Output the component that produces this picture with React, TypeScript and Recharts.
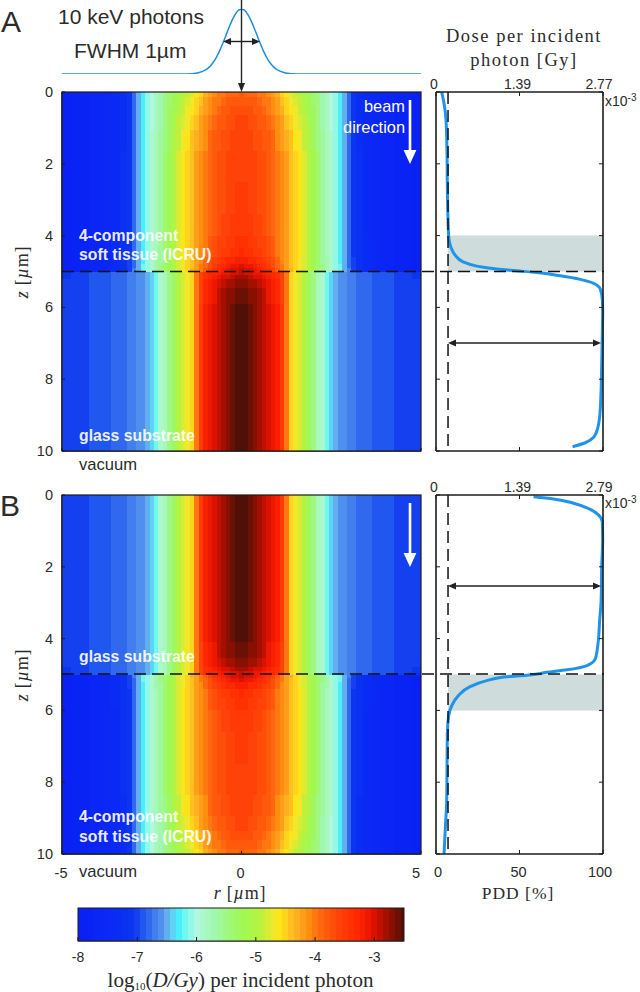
import React from 'react';
import { ScatterChart, Scatter, LineChart, Line, XAxis, YAxis, ReferenceLine, ReferenceArea } from 'recharts';

// log10 dose colour table, one entry per 0.1 from -8.0 to -2.5
const colorTable = [
  '#0a20f6', '#0a21f6', '#0a23f5', '#0a25f5', '#0a27f4', '#0a29f4', '#0a2bf3', '#0a2df3', '#0a30f2', '#0c35f0',
  '#1440ef', '#2057ee', '#3068ee', '#427eee', '#4f90ee', '#62aeef', '#5cd4f4', '#48f0fc', '#70f8f0', '#92f8e8',
  '#b0f8e0', '#acf8cc', '#a6f8bc', '#a0f8b0', '#a0f89c', '#a0f884', '#a0f870', '#a0f860', '#a0f850', '#a8f84c',
  '#b2f444', '#c0f03c', '#d8ec34', '#f0e828', '#ffe418', '#ffd41e', '#ffc020', '#ffb020', '#ff9e18', '#ff8e10',
  '#ff7810', '#ff6610', '#ff5a0c', '#ff4e0a', '#ff4208', '#ff3a04', '#ff3002', '#ff2800', '#f82000', '#ee1800',
  '#dc1200', '#c01000', '#a41000', '#881000', '#6a1004', '#501008',
];
const colorLevels = [
  -8, -7.9, -7.8, -7.7, -7.6, -7.5, -7.4, -7.3, -7.2, -7.1, -7, -6.9, -6.8, -6.7, -6.6, -6.5, -6.4, -6.3, -6.2, -6.1,
  -6, -5.9, -5.8, -5.7, -5.6, -5.5, -5.4, -5.3, -5.2, -5.1, -5, -4.9, -4.8, -4.7, -4.6, -4.5, -4.4, -4.3, -4.2, -4.1,
  -4, -3.9, -3.8, -3.7, -3.6, -3.5, -3.4, -3.3, -3.2, -3.1, -3, -2.9, -2.8, -2.7, -2.6, -2.5,
];

// radial positions in um, the maps are mirrored around r = 0
const radii = [
  0, 0.125, 0.25, 0.375, 0.5, 0.625, 0.75, 0.875, 1, 1.125, 1.25, 1.375, 1.5, 1.625, 1.75, 1.875,
  2, 2.125, 2.25, 2.375, 2.5, 2.625, 2.75, 2.875, 3, 3.125, 3.25, 3.5, 3.75, 4, 4.5, 5,
];

// band edges as distance from the tissue/glass interface
const tissueEdges = [0, 0.1, 0.22, 0.4, 0.65, 1, 1.6, 2.5, 3.35, 3.95, 4.35, 4.62, 4.85, 5];
const glassEdges = [0, 0.1, 0.22, 0.45, 0.9, 5];

const tissueDose = [
  [-2.95, -2.98, -3.05, -3.14, -3.24, -3.33, -3.42, -3.6, -3.85, -3.98, -4.2, -4.35, -4.52, -4.66, -4.82, -5, -5.2, -5.38, -5.55, -5.72, -5.9, -6.08, -6.25, -6.45, -6.75, -7.02, -7.2, -7.42, -7.58, -7.68, -7.78, -7.9],
  [-3.05, -3.08, -3.14, -3.22, -3.31, -3.4, -3.5, -3.66, -3.9, -4.03, -4.22, -4.37, -4.52, -4.66, -4.82, -5, -5.2, -5.38, -5.55, -5.72, -5.9, -6.08, -6.25, -6.46, -6.76, -7.03, -7.2, -7.42, -7.58, -7.68, -7.78, -7.9],
  [-3.2, -3.23, -3.28, -3.35, -3.43, -3.52, -3.62, -3.75, -3.94, -4.07, -4.24, -4.38, -4.52, -4.66, -4.82, -5, -5.2, -5.39, -5.57, -5.74, -5.91, -6.09, -6.26, -6.47, -6.78, -7.05, -7.22, -7.43, -7.59, -7.69, -7.79, -7.9],
  [-3.33, -3.36, -3.4, -3.46, -3.52, -3.6, -3.69, -3.8, -3.96, -4.09, -4.25, -4.39, -4.52, -4.65, -4.81, -5, -5.21, -5.4, -5.59, -5.76, -5.92, -6.1, -6.27, -6.49, -6.8, -7.06, -7.23, -7.44, -7.59, -7.69, -7.79, -7.9],
  [-3.43, -3.45, -3.48, -3.53, -3.59, -3.65, -3.72, -3.83, -3.98, -4.1, -4.24, -4.38, -4.51, -4.65, -4.8, -5, -5.22, -5.42, -5.61, -5.78, -5.94, -6.11, -6.28, -6.5, -6.82, -7.08, -7.24, -7.44, -7.6, -7.7, -7.8, -7.9],
  [-3.5, -3.52, -3.55, -3.6, -3.65, -3.7, -3.77, -3.87, -4, -4.12, -4.25, -4.38, -4.5, -4.64, -4.8, -5, -5.23, -5.43, -5.62, -5.79, -5.95, -6.12, -6.28, -6.51, -6.84, -7.09, -7.25, -7.45, -7.6, -7.7, -7.8, -7.9],
  [-3.54, -3.55, -3.58, -3.62, -3.67, -3.73, -3.8, -3.9, -4.01, -4.13, -4.25, -4.38, -4.5, -4.64, -4.8, -5, -5.24, -5.44, -5.63, -5.8, -5.95, -6.12, -6.28, -6.52, -6.85, -7.1, -7.25, -7.45, -7.6, -7.7, -7.8, -7.9],
  [-3.56, -3.57, -3.6, -3.64, -3.69, -3.75, -3.82, -3.92, -4.02, -4.13, -4.25, -4.38, -4.5, -4.64, -4.8, -5, -5.24, -5.44, -5.63, -5.8, -5.95, -6.12, -6.28, -6.52, -6.85, -7.1, -7.25, -7.45, -7.6, -7.7, -7.8, -7.9],
  [-3.58, -3.59, -3.62, -3.66, -3.71, -3.77, -3.85, -3.95, -4.06, -4.17, -4.3, -4.43, -4.56, -4.7, -4.86, -5.05, -5.27, -5.46, -5.64, -5.8, -5.95, -6.12, -6.28, -6.52, -6.85, -7.1, -7.26, -7.46, -7.6, -7.7, -7.8, -7.9],
  [-3.62, -3.63, -3.66, -3.7, -3.76, -3.82, -3.9, -4, -4.12, -4.24, -4.38, -4.52, -4.66, -4.8, -4.95, -5.12, -5.31, -5.49, -5.65, -5.81, -5.96, -6.13, -6.29, -6.53, -6.85, -7.1, -7.27, -7.47, -7.6, -7.7, -7.8, -7.9],
  [-3.68, -3.69, -3.72, -3.76, -3.82, -3.88, -3.96, -4.06, -4.18, -4.31, -4.46, -4.6, -4.74, -4.88, -5.02, -5.18, -5.35, -5.51, -5.66, -5.82, -5.97, -6.13, -6.3, -6.54, -6.85, -7.11, -7.28, -7.48, -7.61, -7.7, -7.8, -7.9],
  [-3.76, -3.77, -3.8, -3.84, -3.9, -3.96, -4.03, -4.13, -4.25, -4.39, -4.54, -4.68, -4.82, -4.95, -5.09, -5.23, -5.38, -5.53, -5.67, -5.82, -5.97, -6.14, -6.31, -6.54, -6.85, -7.12, -7.29, -7.49, -7.62, -7.7, -7.8, -7.9],
  [-3.85, -3.86, -3.88, -3.92, -3.97, -4.03, -4.1, -4.2, -4.32, -4.47, -4.62, -4.76, -4.88, -5, -5.14, -5.28, -5.42, -5.55, -5.68, -5.82, -5.97, -6.14, -6.32, -6.55, -6.85, -7.12, -7.3, -7.5, -7.62, -7.7, -7.8, -7.9],
];

const glassDose = [
  [-2.95, -2.98, -3.03, -3.08, -3.14, -3.2, -3.27, -3.33, -3.4, -3.62, -4.02, -4.48, -4.68, -4.83, -5, -5.28, -5.55, -5.76, -5.95, -6.18, -6.38, -6.54, -6.6, -6.64, -6.7, -6.74, -6.78, -6.84, -6.88, -6.92, -6.99, -7.08],
  [-2.82, -2.85, -2.9, -2.97, -3.05, -3.13, -3.21, -3.29, -3.36, -3.6, -4.01, -4.49, -4.7, -4.84, -5, -5.28, -5.55, -5.76, -5.95, -6.18, -6.38, -6.53, -6.59, -6.63, -6.69, -6.73, -6.77, -6.83, -6.87, -6.91, -6.98, -7.06],
  [-2.68, -2.71, -2.77, -2.85, -2.94, -3.03, -3.13, -3.23, -3.31, -3.58, -4, -4.5, -4.71, -4.85, -5, -5.28, -5.55, -5.76, -5.95, -6.18, -6.38, -6.52, -6.58, -6.62, -6.68, -6.72, -6.76, -6.82, -6.86, -6.9, -6.97, -7.05],
  [-2.57, -2.6, -2.67, -2.75, -2.85, -2.95, -3.07, -3.18, -3.28, -3.56, -4, -4.5, -4.72, -4.85, -5, -5.28, -5.55, -5.76, -5.95, -6.18, -6.38, -6.52, -6.58, -6.62, -6.68, -6.72, -6.76, -6.82, -6.86, -6.9, -6.97, -7.05],
  [-2.5, -2.55, -2.62, -2.7, -2.8, -2.9, -3.02, -3.15, -3.25, -3.55, -4, -4.5, -4.72, -4.85, -5, -5.28, -5.55, -5.76, -5.95, -6.18, -6.38, -6.52, -6.58, -6.62, -6.68, -6.72, -6.76, -6.82, -6.86, -6.9, -6.97, -7.05],
];

// incident beam profile above panel A
const beamR = [-5, -1.6, -1.4, -1.2, -1, -0.9, -0.8, -0.7, -0.6, -0.5, -0.4, -0.3, -0.2, -0.1, 0, 0.1, 0.2, 0.3, 0.4, 0.5, 0.6, 0.7, 0.8, 0.9, 1, 1.2, 1.4, 1.6, 5];
const beamI = [0, 0, 0.004, 0.018, 0.062, 0.106, 0.17, 0.257, 0.368, 0.5, 0.641, 0.779, 0.895, 0.973, 1, 0.973, 0.895, 0.779, 0.641, 0.5, 0.368, 0.257, 0.17, 0.106, 0.062, 0.018, 0.004, 0, 0];

// depth dose curves, z in um and PDD in %
const pddAz = [0, 0.31, 0.78, 1.7, 2.64, 3.56, 4.03, 4.31, 4.54, 4.73, 4.85, 4.93, 4.98, 5.03, 5.12, 5.22, 5.33, 5.49, 5.79, 6.17, 6.7, 7.65, 8.39, 9.04, 9.37, 9.62, 9.77, 9.88];
const pddA = [3.4, 4.8, 6, 6.6, 6.8, 7.2, 7.6, 8.8, 11.4, 16.2, 24.4, 36.4, 48.4, 60.4, 74.4, 86.4, 94.4, 98.4, 99.6, 99.8, 99.6, 99.2, 98.8, 98, 96.8, 94.4, 89.4, 81.8];
const pddBz = [0.05, 0.11, 0.23, 0.4, 0.56, 0.75, 1.26, 2, 2.74, 3.02, 3.49, 4.14, 4.56, 4.75, 4.87, 4.94, 5.02, 5.06, 5.17, 5.34, 5.59, 5.87, 6.15, 6.65, 7.59, 8.52, 9.27, 10];
const pddB = [58.4, 70.4, 82.4, 92.4, 97.4, 99.6, 99.8, 99.2, 99, 98.8, 98, 97, 95.4, 90.4, 78.4, 66.4, 54.4, 42.4, 30.4, 20.4, 13.4, 9.4, 7.6, 6.8, 6.6, 6.4, 5.6, 4.8];

const zTicks = [0, 2, 4, 6, 8, 10];
const rTicks = [-5, 0, 5];
const pddTicks = [0, 50, 100];
const doseLabelsA = ['0', '1.39', '2.77'];
const doseLabelsB = ['0', '1.39', '2.79'];
const barTicks = [-8, -7, -6, -5, -4, -3];

const SANS = '"Liberation Sans", Arial, sans-serif';
const SERIF = '"Liberation Serif", "Times New Roman", serif';
const INK = '#1c1c1c';
const LABEL = '#2b2b2b';

const PLOT_W = 359;
const PLOT_H = 359;
const LEFT_W = 62;

type Cell = { r: number; z: number; w: number; h: number; fill: string };

const colorOf = (v: number) => {
  const i = Math.min(colorTable.length - 1, Math.max(0, Math.round((v + 8) * 10)));
  return colorTable[i];
};

function addRows(cells: Cell[], dose: number[][], edges: number[], above: boolean) {
  dose.forEach((row, i) => {
    const z0 = above ? 5 - edges[i + 1] : 5 + edges[i];
    const z1 = above ? 5 - edges[i] : 5 + edges[i + 1];
    row.forEach((v, j) => {
      const inner = j === 0 ? 0 : (radii[j - 1] + radii[j]) / 2;
      const outer = j === radii.length - 1 ? 5 : (radii[j] + radii[j + 1]) / 2;
      const base = { z: (z0 + z1) / 2, h: z1 - z0, fill: colorOf(v) };
      if (j === 0) {
        cells.push({ ...base, r: 0, w: outer * 2 });
      } else {
        const mid = (inner + outer) / 2;
        cells.push({ ...base, r: mid, w: outer - inner });
        cells.push({ ...base, r: -mid, w: outer - inner });
      }
    });
  });
}

function panelCells(tissueOnTop: boolean) {
  const cells: Cell[] = [];
  addRows(cells, tissueDose, tissueEdges, tissueOnTop);
  addRows(cells, glassDose, glassEdges, !tissueOnTop);
  return cells;
}

const cellsA = panelCells(true);
const cellsB = panelCells(false);
const barCells: Cell[] = colorLevels.map((lv, i) => {
  const x0 = Math.max(lv - 0.05, -8);
  const x1 = Math.min(lv + 0.05, -2.5);
  return { r: (x0 + x1) / 2, z: 0.5, w: x1 - x0, h: 1, fill: colorTable[i] };
});

const zip = (zs: number[], vs: number[]) => zs.map((z, i) => ({ z, pdd: vs[i] }));
const beamData = beamR.map((r, i) => ({ r, i: beamI[i] }));

const cellShape = (pxX: number, pxY: number) => (p: any) => {
  const w = p.payload.w * pxX;
  const h = p.payload.h * pxY;
  return <rect x={p.cx - w / 2} y={p.cy - h / 2} width={w} height={h} fill={p.payload.fill} shapeRendering="crispEdges" />;
};

const zTick = (side: number, showLabel: boolean, len = 4) => (p: any) => (
  <g>
    <line x1={p.x} x2={p.x + side * len} y1={p.y} y2={p.y} stroke={INK} strokeWidth={1} />
    {showLabel && (
      <text x={p.x - 9} y={p.y + 5} textAnchor="end" fontSize={14.5} fontFamily={SANS} fill={LABEL}>
        {p.payload.value}
      </text>
    )}
  </g>
);

function HeatPanel({ cells, top, showR }: { cells: Cell[]; top: number; showR: boolean }) {
  return (
    <div style={{ position: 'absolute', left: 0, top }}>
      <ScatterChart width={LEFT_W + PLOT_W + 8} height={PLOT_H + 8 + 34} margin={{ top: 8, right: 8, bottom: 0, left: 0 }}>
        <XAxis
          type="number"
          dataKey="r"
          domain={[-5, 5]}
          ticks={rTicks}
          interval={0}
          height={34}
          tickLine={false}
          tickSize={0}
          tickMargin={0}
          axisLine={{ stroke: INK, strokeWidth: 1.4 }}
          tick={(p: any) => (
            <g>
              <line x1={p.x} x2={p.x} y1={p.y} y2={p.y - 3} stroke={INK} strokeWidth={1} />
              {showR && (
                <text x={p.x + (p.payload.value === 5 ? -5 : -1)} y={p.y + 24} textAnchor="middle" fontSize={14.5} fontFamily={SANS} fill={LABEL}>
                  {p.payload.value}
                </text>
              )}
            </g>
          )}
        />
        <YAxis
          type="number"
          dataKey="z"
          reversed
          domain={[0, 10]}
          ticks={zTicks}
          interval={0}
          width={LEFT_W}
          tickLine={false}
          tickSize={0}
          tickMargin={0}
          axisLine={{ stroke: INK, strokeWidth: 1.4 }}
          tick={zTick(1, true, 3)}
        />
        <Scatter data={cells} isAnimationActive={false} shape={cellShape(PLOT_W / 10, PLOT_H / 10)} />
        <ReferenceLine x={0} stroke="#141414" strokeWidth={1.2} />
      </ScatterChart>
    </div>
  );
}

function DosePanel({ data, top, labels, band, showPdd }: { data: { z: number; pdd: number }[]; top: number; labels: string[]; band: number[]; showPdd: boolean }) {
  return (
    <div style={{ position: 'absolute', left: 416, top }}>
      <LineChart layout="vertical" width={207} height={25 + PLOT_H + 34} data={data} margin={{ top: 0, right: 0, bottom: 0, left: 0 }}>
        <XAxis
          xAxisId="top"
          orientation="top"
          type="number"
          dataKey="pdd"
          domain={[0, 100]}
          ticks={pddTicks}
          interval={0}
          height={25}
          tickLine={false}
          tickSize={0}
          tickMargin={0}
          axisLine={{ stroke: INK, strokeWidth: 1.6 }}
          tick={(p: any) => (
            <g>
              <line x1={p.x} x2={p.x} y1={p.y} y2={p.y + 4} stroke={INK} />
              <text x={p.x + (p.payload.value === 100 ? -4 : -2)} y={p.y - 3} textAnchor="middle" fontSize={14} fontFamily={SANS} fill={LABEL}>
                {labels[pddTicks.indexOf(p.payload.value)]}
              </text>
            </g>
          )}
        />
        <XAxis
          xAxisId="bottom"
          orientation="bottom"
          type="number"
          dataKey="pdd"
          domain={[0, 100]}
          ticks={pddTicks}
          interval={0}
          height={34}
          tickLine={false}
          tickSize={0}
          tickMargin={0}
          axisLine={{ stroke: INK, strokeWidth: 1.6 }}
          tick={(p: any) => (
            <g>
              <line x1={p.x} x2={p.x} y1={p.y} y2={p.y - 4} stroke={INK} />
              {showPdd && (
                <text x={p.x + (p.payload.value === 100 ? -3 : p.payload.value === 0 ? 2 : -1)} y={p.y + 23} textAnchor="middle" fontSize={14.5} fontFamily={SANS} fill={LABEL}>
                  {p.payload.value}
                </text>
              )}
            </g>
          )}
        />
        <YAxis yAxisId="left" type="number" dataKey="z" domain={[0, 10]} ticks={zTicks} interval={0} width={20} tickLine={false} tickSize={0} tickMargin={0} axisLine={{ stroke: INK, strokeWidth: 1.6 }} tick={zTick(1, false)} />
        <YAxis yAxisId="right" orientation="right" type="number" dataKey="z" domain={[0, 10]} ticks={zTicks} interval={0} width={20} tickLine={false} tickSize={0} tickMargin={0} axisLine={{ stroke: INK, strokeWidth: 1.6 }} tick={zTick(-1, false)} />
        <ReferenceArea xAxisId="top" yAxisId="left" x1={7.2} x2={100} y1={band[0]} y2={band[1]} fill="#cfdcdc" fillOpacity={1} stroke="none" />
        <Line xAxisId="top" yAxisId="left" dataKey="pdd" type="monotone" stroke="#1f93ea" strokeWidth={3} dot={false} isAnimationActive={false} />
        <ReferenceLine xAxisId="top" yAxisId="left" x={7.2} stroke="#111" strokeWidth={1.5} strokeDasharray="12 6" />
      </LineChart>
    </div>
  );
}

function ColorBar() {
  return (
    <div style={{ position: 'absolute', left: 70, top: 908 }}>
      <ScatterChart width={342} height={33 + 34} margin={{ top: 0, right: 8, bottom: 0, left: 8 }}>
        <XAxis
          type="number"
          dataKey="r"
          domain={[-8, -2.5]}
          ticks={barTicks}
          interval={0}
          height={34}
          tickLine={false}
          tickSize={0}
          tickMargin={0}
          axisLine={{ stroke: INK, strokeWidth: 1.2 }}
          tick={(p: any) => (
            <g>
              <line x1={p.x} x2={p.x} y1={p.y} y2={p.y - 4} stroke={INK} />
              <text x={p.x} y={p.y + 21} textAnchor="middle" fontSize={14} fontFamily={SANS} fill={LABEL}>
                {p.payload.value}
              </text>
            </g>
          )}
        />
        <YAxis type="number" dataKey="z" domain={[0, 1]} hide />
        <Scatter data={barCells} isAnimationActive={false} shape={cellShape(326 / 5.5, 33)} />
      </ScatterChart>
    </div>
  );
}

function BeamProfile() {
  return (
    <div style={{ position: 'absolute', left: LEFT_W, top: 8.5 }}>
      <LineChart width={PLOT_W} height={65} data={beamData} margin={{ top: 0, right: 0, bottom: 0, left: 0 }}>
        <XAxis type="number" dataKey="r" domain={[-5, 5]} hide />
        <YAxis type="number" domain={[0, 1]} hide />
        <Line dataKey="i" type="monotone" stroke="#1f8fe0" strokeWidth={1.5} dot={false} isAnimationActive={false} />
      </LineChart>
    </div>
  );
}

const Head = ({ x, y, dir }: { x: number; y: number; dir: 'l' | 'r' | 'd' }) => {
  if (dir === 'd') return <polygon points={`${x},${y} ${x - 3.5},${y - 9} ${x + 3.5},${y - 9}`} fill="#222" />;
  const s = dir === 'l' ? 1 : -1;
  return <polygon points={`${x},${y} ${x + s * 8},${y - 3.5} ${x + s * 8},${y + 3.5}`} fill="#222" />;
};

const DoubleArrow = ({ x1, x2, y }: { x1: number; x2: number; y: number }) => (
  <g>
    <line x1={x1 + 4} x2={x2 - 4} y1={y} y2={y} stroke="#222" strokeWidth={1.4} />
    <Head x={x1} y={y} dir="l" />
    <Head x={x2} y={y} dir="r" />
  </g>
);

const WhiteArrow = ({ top }: { top: number }) => (
  <g>
    <line x1={410} x2={410} y1={top} y2={top + 52} stroke="#fff" strokeWidth={2.6} />
    <polygon points={`${410},${top + 64} ${403.6},${top + 50} ${416.4},${top + 50}`} fill="#fff" />
  </g>
);

const Micro = () => (
  <>
    [<tspan fontStyle="italic">µ</tspan>m]
  </>
);

function Annotations() {
  const white = { fill: '#fff', fontFamily: SANS, fontWeight: 700, fontSize: 15.8, fillOpacity: 0.93 };
  const black = { fill: LABEL, fontFamily: SANS };
  const serif = { fill: LABEL, fontFamily: SERIF };
  return (
    <svg width={640} height={992} style={{ position: 'absolute', left: 0, top: 0, pointerEvents: 'none' }}>
      <text x={1} y={32} fontSize={30} {...black}>A</text>
      <text x={0} y={516} fontSize={30} {...black}>B</text>
      <text x={58} y={24} fontSize={21} {...black}>10 keV photons</text>
      <text x={74} y={58} fontSize={21} {...black}>FWHM 1µm</text>

      <line x1={241.5} x2={241.5} y1={0} y2={86} stroke="#222" strokeWidth={1.4} />
      <Head x={241.5} y={92} dir="d" />
      <DoubleArrow x1={223} x2={260} y={41.5} />

      <text x={524} y={42} textAnchor="middle" fontSize={18.5} letterSpacing={1.5} {...serif}>Dose per incident</text>
      <text x={524} y={66} textAnchor="middle" fontSize={18.5} letterSpacing={1.5} {...serif}>photon [Gy]</text>
      <text x={605} y={106} fontSize={14} {...black}>x10<tspan dy={-5} fontSize={10}>-3</tspan></text>
      <text x={605} y={508} fontSize={14} {...black}>x10<tspan dy={-5} fontSize={10}>-3</tspan></text>

      <text x={405} y={112} textAnchor="end" fontSize={16.4} fill="#fff" fontFamily={SANS}>beam</text>
      <text x={405} y={133} textAnchor="end" fontSize={16.4} fill="#fff" fontFamily={SANS}>direction</text>
      <WhiteArrow top={100} />
      <WhiteArrow top={503} />

      <text x={79} y={241} {...white}>4-component</text>
      <text x={79} y={260} {...white}>soft tissue (ICRU)</text>
      <text x={79} y={441} {...white}>glass substrate</text>
      <text x={79} y={662} {...white}>glass substrate</text>
      <text x={79} y={822} {...white}>4-component</text>
      <text x={79} y={842} {...white}>soft tissue (ICRU)</text>
      <text x={79} y={470} fontSize={16.6} {...black}>vacuum</text>
      <text x={79} y={877} fontSize={16.6} {...black}>vacuum</text>

      <rect x={62} y={92} width={359} height={359} fill="none" stroke={INK} strokeWidth={1.2} />
      <rect x={62} y={495} width={359} height={359} fill="none" stroke={INK} strokeWidth={1.2} />
      <rect x={78} y={908} width={326} height={33} fill="none" stroke={INK} strokeWidth={1} />

      <line x1={62} x2={604} y1={271.5} y2={271.5} stroke="#111" strokeWidth={1.4} strokeDasharray="12 6" />
      <line x1={62} x2={604} y1={674} y2={674} stroke="#111" strokeWidth={1.4} strokeDasharray="12 6" />
      <DoubleArrow x1={448} x2={601} y={343} />
      <DoubleArrow x1={448} x2={601} y={586} />

      <text transform="translate(28,272) rotate(-90)" textAnchor="middle" fontSize={18} letterSpacing={0.8} {...serif}>
        <tspan fontStyle="italic">z</tspan> <Micro />
      </text>
      <text transform="translate(28,675) rotate(-90)" textAnchor="middle" fontSize={18} letterSpacing={0.8} {...serif}>
        <tspan fontStyle="italic">z</tspan> <Micro />
      </text>
      <text x={240} y={899} textAnchor="middle" fontSize={18} letterSpacing={0.8} {...serif}>
        <tspan fontStyle="italic">r</tspan> <Micro />
      </text>
      <text x={518} y={899} textAnchor="middle" fontSize={17.5} letterSpacing={1} {...serif}>PDD [%]</text>
      <text x={240.5} y={987} textAnchor="middle" fontSize={21} {...serif}>
        log<tspan dy={3} fontSize={11}>10</tspan><tspan dy={-3}>(</tspan><tspan fontStyle="italic">D/Gy</tspan>) per incident photon
      </text>
    </svg>
  );
}

export default function App() {
  return (
    <div style={{ position: 'absolute', left: 0, top: 0, width: 640, height: 992, overflow: 'hidden', background: '#fff' }}>
      <BeamProfile />
      <HeatPanel cells={cellsA} top={84} showR={false} />
      <HeatPanel cells={cellsB} top={487} showR />
      <DosePanel data={zip(pddAz, pddA)} top={67} labels={doseLabelsA} band={[4, 5]} showPdd={false} />
      <DosePanel data={zip(pddBz, pddB)} top={470} labels={doseLabelsB} band={[5, 6]} showPdd />
      <ColorBar />
      <Annotations />
    </div>
  );
}
